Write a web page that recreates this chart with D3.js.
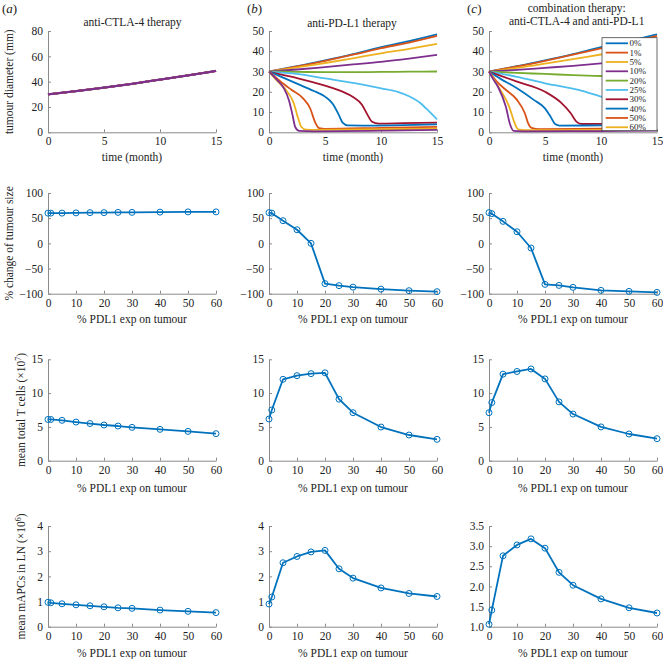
<!DOCTYPE html>
<html><head><meta charset="utf-8">
<script src="https://cdn.jsdelivr.net/npm/d3@7"></script>
<style>
body{margin:0;background:#fff;}
svg text{font-family:"Liberation Serif","Times New Roman",serif !important;fill:#222;}
</style></head>
<body><svg id="c" width="663" height="659"></svg>
<script>
// ---------------- DATA ----------------
const pdl1 = [0, 1, 5, 10, 15, 20, 25, 30, 40, 50, 60];
const legendLabels = ["0%","1%","5%","10%","20%","25%","30%","40%","50%","60%"];
const seriesColors = ["#0072BD","#D95319","#EDB120","#7E2F8E","#77AC30","#4DBEEE","#A2142F","#0072BD","#D95319","#EDB120","#7E2F8E"];
const timeTicks = [0, 5, 10, 15];
const pdlTicks = [0, 10, 20, 30, 40, 50, 60];

// tumour diameter (mm) vs time (month): [t, d]
const diamA = [[0,30],[2.5,32.5],[5,35.3],[7.5,38.3],[10,41.6],[12.5,45.0],[15,48.5]];
const diamB = [
  [[0,30],[2.5,32.6],[5,35.5],[7.5,38.6],[10,42.0],[12.5,45.0],[15,48.4]],
  [[0,30],[2.5,32.5],[5,35.3],[7.5,38.3],[10,41.5],[12.5,44.3],[15,47.6]],
  [[0,30],[2.5,32.0],[5,34.2],[7.5,36.5],[10,39.0],[12.5,41.2],[15,43.6]],
  [[0,30],[2.5,31.0],[5,32.2],[7.5,33.5],[10,34.8],[12.5,36.4],[15,38.2]],
  [[0,30],[2.5,29.8],[5,29.7],[7.5,29.7],[10,29.8],[12.5,29.9],[15,30.0]],
  [[0,30],[2.5,28.8],[5,26.6],[7.5,24.4],[10,21.7],[11.5,20.0],[12.5,17.8],[13.5,14.5],[14.3,10.3],[15,6.4]],
  [[0,30],[1,28.6],[2.5,26.8],[5,23.0],[6.5,20.2],[7.5,17.4],[8.3,13.6],[8.8,8.6],[9.2,5.2],[9.8,4.3],[12,4.5],[15,4.8]],
  [[0,30],[1,27.6],[2.5,24.0],[4,20.4],[5,17.6],[5.7,14.0],[6.2,9.0],[6.6,4.6],[7,3.4],[9,3.3],[12,3.5],[15,3.9]],
  [[0,30],[1,25.2],[2,21.0],[3,17.0],[3.7,11.5],[4.1,5.2],[4.5,2.0],[5,1.7],[10,2.2],[15,2.7]],
  [[0,30],[0.8,25.0],[1.5,21.0],[2.2,14.5],[2.6,7.0],[2.9,2.6],[3.3,1.3],[4,1.2],[10,1.5],[15,1.8]],
  [[0,30],[0.7,26.0],[1.3,22.0],[1.8,15.5],[2.1,8.5],[2.35,2.5],[2.7,0.7],[4,0.5],[10,0.8],[15,1.2]]
];
const diamC = [
  [[0,30],[2.5,32.6],[5,35.5],[7.5,38.6],[10,42.0],[12.5,45.0],[15,48.3]],
  [[0,30],[2.5,32.5],[5,35.3],[7.5,38.3],[10,41.4],[12.5,44.3],[15,47.6]],
  [[0,30],[2.5,31.8],[5,33.9],[7.5,36.1],[10,38.4],[12.5,40.6],[15,42.9]],
  [[0,30],[2.5,30.8],[5,31.8],[7.5,32.8],[10,34.0],[12.5,35.4],[15,37.0]],
  [[0,30],[2.5,29.3],[5,28.8],[7.5,28.2],[10,27.8],[12.5,27.4],[15,27.1]],
  [[0,30],[2.5,27.4],[5,24.2],[8,20.9],[10,17.6],[12,14.5],[13.5,11.0],[14.4,8.0],[15,5.7]],
  [[0,30],[1,28.0],[2.5,25.0],[5,20.0],[6.5,14.3],[7.3,9.4],[7.8,5.3],[8.3,4.1],[11,4.2],[15,4.4]],
  [[0,30],[1,26.5],[2.5,21.7],[4,16.0],[5,11.8],[5.5,7.7],[5.9,4.1],[6.3,3.3],[10,3.4],[15,3.6]],
  [[0,30],[0.7,25.0],[1.5,21.0],[2.5,16.0],[3.2,9.4],[3.5,4.4],[3.8,2.2],[4.5,1.6],[10,1.8],[15,2.0]],
  [[0,30],[0.5,25.5],[1,21.0],[1.8,12.7],[2.3,4.4],[2.6,1.5],[3.2,1.1],[10,1.2],[15,1.4]],
  [[0,30],[0.4,26.0],[0.8,22.5],[1.5,12.7],[1.9,3.6],[2.2,0.7],[3,0.5],[10,0.6],[15,0.8]]
];

// % change of tumour size
const changeA = [60, 60, 60, 60.5, 61, 61, 61.5, 61.5, 62, 62.5, 62.5];
const changeB = [61, 60, 45, 27, 0, -80, -84, -87, -91, -94, -96];
const changeC = [61, 59, 43.7, 23, -9.3, -81.5, -83.5, -87.4, -93.4, -95.4, -97.4];
// mean total T cells (x10^7)
const tcellA = [6.1, 6.1, 5.97, 5.72, 5.5, 5.28, 5.13, 4.93, 4.64, 4.34, 4.0];
const tcellB = [6.17, 7.5, 12.04, 12.58, 12.88, 13.0, 9.1, 7.1, 4.98, 3.8, 3.16];
const tcellC = [7.1, 8.6, 12.8, 13.2, 13.57, 12.1, 8.7, 6.9, 5.0, 3.95, 3.26];
// mean mAPCs in LN (x10^6)
const mapcA = [0.97, 0.95, 0.91, 0.87, 0.83, 0.79, 0.75, 0.73, 0.66, 0.61, 0.56];
const mapcB = [0.9, 1.18, 2.54, 2.79, 2.97, 3.03, 2.3, 1.93, 1.54, 1.32, 1.2];
const mapcC = [1.06, 1.41, 2.76, 3.03, 3.18, 2.95, 2.35, 2.03, 1.69, 1.47, 1.34];

// ---------------- LAYOUT ----------------
const svg = d3.select("#c");
const colX = [48, 269, 489];
const plotW = 168;
const rows = [[31, 132.3], [193, 293.7], [359.3, 460.7], [526, 626.7]];
const axisCol = "#8a8a8a";
const blue = "#0072BD";
const FS = 11.5;
const SERIF = '"Liberation Serif","Times New Roman",serif';

function drawAxes(g, x, y, xt, yt, yfmt) {
  const ax = d3.axisBottom(x).tickValues(xt).tickFormat(d3.format("d")).tickSizeInner(-3).tickSizeOuter(0).tickPadding(5);
  const ay = d3.axisLeft(y).tickValues(yt).tickFormat(yfmt || d3.format("d")).tickSizeInner(-3).tickSizeOuter(0).tickPadding(5);
  const gx = g.append("g").attr("transform", `translate(0,${y.range()[0]})`).call(ax);
  const gy = g.append("g").attr("transform", `translate(${x.range()[0]},0)`).call(ay);
  [gx, gy].forEach(a => {
    a.attr("font-family", SERIF).attr("font-size", FS);
    a.select(".domain").attr("stroke", axisCol).attr("stroke-width", 1);
    a.selectAll(".tick line").attr("stroke", axisCol);
    a.selectAll(".tick text").style("font-family", SERIF).attr("font-size", FS).attr("fill", "#222");
  });
}

function xLabel(text, cx, cy) {
  svg.append("text").attr("x", cx).attr("y", cy).attr("dy", "0.35em")
    .attr("text-anchor", "middle").attr("font-size", FS).text(text);
}
function yLabel(cx, cy, main, sup, tail) {
  const t = svg.append("text").attr("transform", `translate(${cx},${cy}) rotate(-90)`)
    .attr("dy", "0.35em").attr("text-anchor", "middle").attr("font-size", FS);
  t.append("tspan").text(main);
  if (sup) {
    t.append("tspan").attr("font-size", 8).attr("baseline-shift", "super").text(sup);
    t.append("tspan").text(tail);
  }
}

// ---------------- ROW 1: diameter vs time ----------------
const diamSets = [diamB.map(() => diamA), diamB, diamC];
const yMaxTop = [80, 50, 50];
const yTicksTop = [[0,20,40,60,80], [0,10,20,30,40,50], [0,10,20,30,40,50]];
const line = d3.line().curve(d3.curveMonotoneX);
for (let c = 0; c < 3; c++) {
  const x = d3.scaleLinear().domain([0, 15]).range([colX[c], colX[c] + plotW]);
  const y = d3.scaleLinear().domain([0, yMaxTop[c]]).range([rows[0][1], rows[0][0]]);
  const g = svg.append("g");
  drawAxes(g, x, y, timeTicks, yTicksTop[c]);
  const n = diamSets[c].length;
  diamSets[c].forEach((s, i) => {
    g.append("path").attr("d", line.x(d => x(d[0])).y(d => y(d[1]))(s))
      .attr("fill", "none").attr("stroke", seriesColors[i])
      .attr("stroke-width", (c === 0 && i === n - 1) ? 2.3 : 1.8);
  });
  xLabel("time (month)", colX[c] + plotW / 2, 156.7);
}

// legend in panel (c)
const lg = svg.append("g");
lg.append("rect").attr("x", 602).attr("y", 37.7).attr("width", 55).attr("height", 93)
  .attr("fill", "#fff").attr("stroke", "#444").attr("stroke-width", 0.8);
legendLabels.forEach((lab, i) => {
  const yy = 43.3 + i * 9.33;
  lg.append("line").attr("x1", 605.7).attr("x2", 628).attr("y1", yy).attr("y2", yy)
    .attr("stroke", seriesColors[i]).attr("stroke-width", 1.8);
  lg.append("text").attr("x", 629.5).attr("y", yy).attr("dy", "0.35em").attr("font-size", 9).text(lab);
});

// titles and panel letters
svg.append("text").attr("x", 132.5).attr("y", 21.7).attr("dy", "0.35em").attr("text-anchor", "middle").attr("font-size", FS).text("anti-CTLA-4 therapy");
svg.append("text").attr("x", 352).attr("y", 22.7).attr("dy", "0.35em").attr("text-anchor", "middle").attr("font-size", FS).text("anti-PD-L1 therapy");
svg.append("text").attr("x", 576.7).attr("y", 7.6).attr("dy", "0.35em").attr("text-anchor", "middle").attr("font-size", FS).text("combination therapy:");
svg.append("text").attr("x", 576.7).attr("y", 20.9).attr("dy", "0.35em").attr("text-anchor", "middle").attr("font-size", FS).text("anti-CTLA-4 and anti-PD-L1");
[["a", 2], ["b", 247], ["c", 467]].forEach(([l, xx]) => {
  const t = svg.append("text").attr("x", xx).attr("y", 8.5).attr("dy", "0.35em").attr("font-size", 13);
  t.append("tspan").text("(");
  t.append("tspan").attr("font-style", "italic").text(l);
  t.append("tspan").text(")");
});

// ---------------- ROWS 2-4: vs PDL1 ----------------
const rowData = [
  [changeA, changeB, changeC],
  [tcellA, tcellB, tcellC],
  [mapcA, mapcB, mapcC]
];
const rowDomains = [
  [[-100, 100], [-100, 100], [-100, 100]],
  [[0, 15], [0, 15], [0, 15]],
  [[0, 4], [0, 4], [1, 3.5]]
];
const rowTicks = [
  [[-100,-50,0,50,100], [-100,-50,0,50,100], [-100,-50,0,50,100]],
  [[0,5,10,15], [0,5,10,15], [0,5,10,15]],
  [[0,1,2,3,4], [0,1,2,3,4], [1,1.5,2,2.5,3,3.5]]
];
const xLabelY = [319, 488.3, 653.3];
for (let r = 0; r < 3; r++) {
  for (let c = 0; c < 3; c++) {
    const x = d3.scaleLinear().domain([0, 60]).range([colX[c], colX[c] + plotW]);
    const y = d3.scaleLinear().domain(rowDomains[r][c]).range([rows[r + 1][1], rows[r + 1][0]]);
    const g = svg.append("g");
    drawAxes(g, x, y, pdlTicks, rowTicks[r][c], (r === 2 && c === 2) ? d3.format(".1f") : null);
    const vals = rowData[r][c];
    const pts = pdl1.map((p, i) => [x(p), y(vals[i])]);
    g.append("path").attr("d", d3.line()(pts)).attr("fill", "none")
      .attr("stroke", blue).attr("stroke-width", 1.8).attr("stroke-linejoin", "round");
    g.selectAll("circle.m").data(pts).enter().append("circle")
      .attr("cx", d => d[0]).attr("cy", d => d[1]).attr("r", 3)
      .attr("fill", "none").attr("stroke", blue).attr("stroke-width", 1);
    xLabel("% PDL1 exp on tumour", colX[c] + plotW / 2, xLabelY[r]);
  }
}

// y-axis labels (first column)
yLabel(8.5, 81.7, "tumour diameter (mm)");
yLabel(8.5, 243.4, "% change of tumour size");
yLabel(21, 410, "mean total T cells (\u00d710", "7", ")");
yLabel(21, 576.4, "mean mAPCs in LN (\u00d710", "6", ")");
</script></body></html>
